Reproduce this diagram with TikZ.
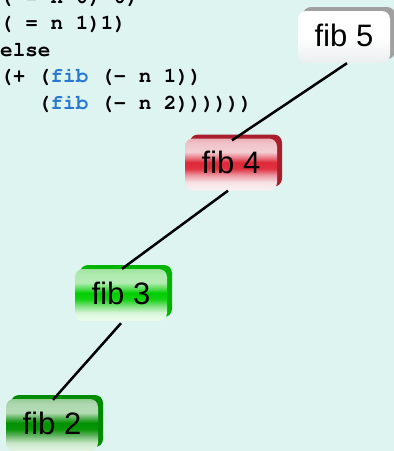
\documentclass[tikz,border=0pt]{standalone}
\usepackage[T1]{fontenc}
\usepackage{fontspec}
\newfontfamily\boxfont{Liberation Sans}
\usetikzlibrary{shadows}
\definecolor{bgc}{RGB}{222,244,240}
\definecolor{fibblue}{RGB}{40,120,210}
% red gloss (bottom to top)
\definecolor{rA}{RGB}{250,242,244}
\definecolor{rB}{RGB}{246,225,228}
\definecolor{rC}{RGB}{236,150,160}
\definecolor{rD}{RGB}{224,50,66}
\definecolor{rE}{RGB}{222,40,56}
\definecolor{rF}{RGB}{232,110,122}
\definecolor{rG}{RGB}{242,205,210}
\definecolor{rH}{RGB}{240,196,202}
\definecolor{rI}{RGB}{236,176,184}
\definecolor{shR}{RGB}{168,30,45}
% bright green gloss
\definecolor{gA}{RGB}{240,252,240}
\definecolor{gB}{RGB}{215,245,215}
\definecolor{gC}{RGB}{120,225,120}
\definecolor{gD}{RGB}{20,210,20}
\definecolor{gE}{RGB}{0,206,0}
\definecolor{gF}{RGB}{80,220,80}
\definecolor{gG}{RGB}{180,236,180}
\definecolor{gH}{RGB}{176,234,176}
\definecolor{gI}{RGB}{160,226,160}
\definecolor{shG}{RGB}{0,180,0}
% dark green gloss
\definecolor{dA}{RGB}{228,244,228}
\definecolor{dB}{RGB}{200,230,200}
\definecolor{dC}{RGB}{100,180,100}
\definecolor{dD}{RGB}{10,150,10}
\definecolor{dE}{RGB}{0,145,0}
\definecolor{dF}{RGB}{70,170,70}
\definecolor{dG}{RGB}{180,220,180}
\definecolor{dH}{RGB}{176,216,176}
\definecolor{dI}{RGB}{150,204,150}
\definecolor{shD}{RGB}{0,138,0}
% white
\definecolor{wTop}{RGB}{255,255,255}
\definecolor{wBot}{RGB}{234,238,238}
\definecolor{shW}{RGB}{160,160,160}
\pgfdeclareverticalshading{redgloss}{100bp}{color(0bp)=(rA); color(25bp)=(rA); color(33bp)=(rB); color(40bp)=(rC); color(46bp)=(rD); color(52bp)=(rE); color(56bp)=(rF); color(62bp)=(rG); color(70bp)=(rH); color(75bp)=(rI); color(100bp)=(rI)}
\pgfdeclareverticalshading{greengloss}{100bp}{color(0bp)=(gA); color(25bp)=(gA); color(33bp)=(gB); color(40bp)=(gC); color(46bp)=(gD); color(52bp)=(gE); color(56bp)=(gF); color(62bp)=(gG); color(70bp)=(gH); color(75bp)=(gI); color(100bp)=(gI)}
\pgfdeclareverticalshading{darkgloss}{100bp}{color(0bp)=(dA); color(25bp)=(dA); color(33bp)=(dB); color(40bp)=(dC); color(46bp)=(dD); color(52bp)=(dE); color(56bp)=(dF); color(62bp)=(dG); color(70bp)=(dH); color(75bp)=(dI); color(100bp)=(dI)}
\pgfdeclareverticalshading{whitegloss}{100bp}{color(0bp)=(wBot); color(25bp)=(wBot); color(50bp)=(wTop); color(75bp)=(wTop); color(100bp)=(wTop)}
\newcommand\codefont{\fontencoding{T1}\fontfamily{pcr}\fontseries{b}\fontshape{n}\fontsize{21}{26}\selectfont}
\newcommand\fiblig{\symbol{"FB01}}
\begin{document}
\begin{tikzpicture}[x=1pt,y=-1pt,
  codeline/.style={anchor=base west, inner sep=0pt, font=\codefont},
  fibbox/.style={rounded corners=8pt, minimum width=92pt, minimum height=52pt,
    inner sep=0pt, text depth=4pt, font=\boxfont\fontsize{31}{36}\selectfont},
  boxshadow/.style={general shadow={shadow xshift=5pt, shadow yshift=4pt, fill=#1}},
  edge/.style={draw=black, line width=2.5pt}]
\useasboundingbox (0,0) rectangle (394,451);
\clip (0,0) rectangle (394,451);
\fill[bgc] (0,0) rectangle (394,451);
% code
\node[codeline] (c1) at (0,3.5) {( = n 0) 0)};
\node[codeline] (c2) at (0,29.9) {( = n 1)1)};
\node[codeline] (c3) at (0,56.3) {else};
\node[codeline] (c4) at (0,82.7) {(+ (\textcolor{fibblue}{fib} (- n 1))};
\node[codeline] (c5) at (0,109.1) {\phantom{xxx}(\textcolor{fibblue}{fib} (- n 2))))))};
% boxes
\node[fibbox, shading=whitegloss, boxshadow=shW] (fib5) at (344,37) {\fiblig b 5};
\node[fibbox, shading=redgloss, boxshadow=shR] (fib4) at (231,164.5) {\fiblig b 4};
\node[fibbox, shading=greengloss, boxshadow=shG] (fib3) at (121,295) {\fiblig b 3};
\node[fibbox, shading=darkgloss, boxshadow=shD] (fib2) at (52,425) {\fiblig b 2};
% edges
\draw[edge] ([xshift=3pt]fib5.south) -- ([xshift=1pt,yshift=-2pt]fib4.north);
\draw[edge] ([xshift=-3pt]fib4.south) -- ([xshift=1pt]fib3.north);
\draw[edge] ([yshift=-2pt]fib3.south) -- ([xshift=1pt,yshift=-1pt]fib2.north);
\end{tikzpicture}
\end{document}
